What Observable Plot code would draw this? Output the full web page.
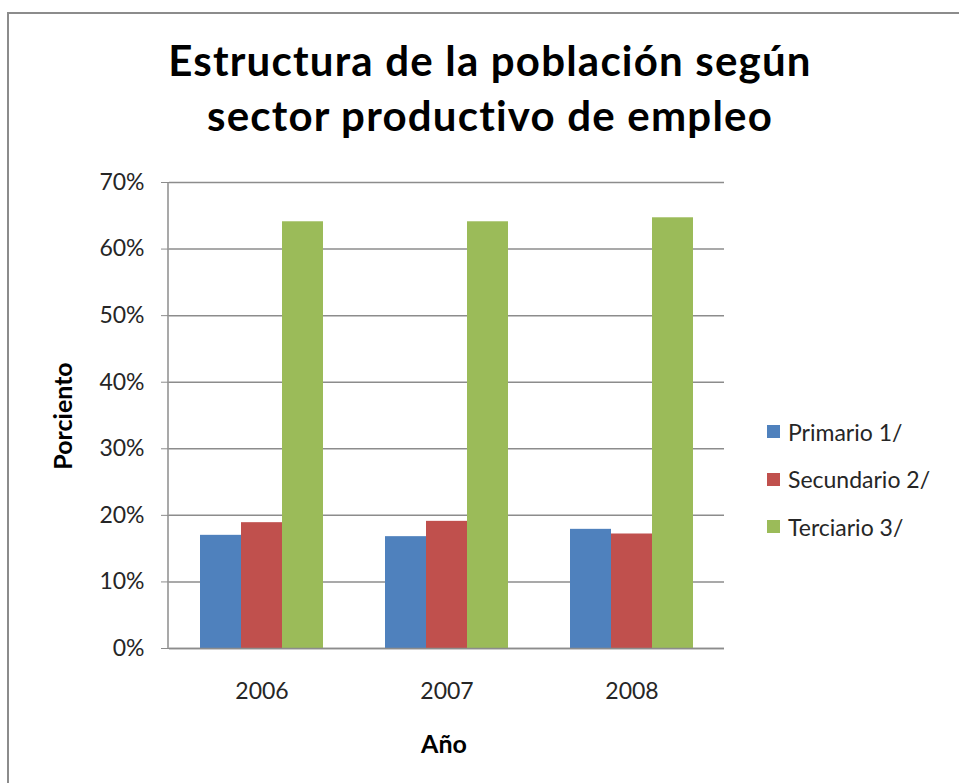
<!DOCTYPE html>
<html>
<head>
<meta charset="utf-8">
<script src="https://cdn.jsdelivr.net/npm/d3@7"></script>
<script src="https://cdn.jsdelivr.net/npm/@observablehq/plot@0.6"></script>
<style>
  html, body { margin: 0; padding: 0; background: #fff; }
  #wrap { position: relative; width: 959px; height: 783px; overflow: hidden; font-family: Lato, "Open Sans", sans-serif; }
  #border { position: absolute; left: 7px; top: 12px; right: -10px; bottom: -10px; border-left: 2px solid #8c8c8c; border-top: 2px solid #8c8c8c; }
  #chart { position: absolute; left: 0; top: 0; }
  #title { position: absolute; left: 0; width: 980px; top: 33px; text-align: center; font-weight: bold; font-size: 42px; line-height: 55px; letter-spacing: 1.2px; color: #000; white-space: nowrap; }
  #title div { display: block; }
  #ylab { position: absolute; left: 62px; top: 416px; transform: translate(-50%, -50%) rotate(-90deg); font-weight: bold; font-size: 25px; color: #000; white-space: nowrap; }
  #xlab { position: absolute; left: 444px; top: 743px; transform: translate(-50%, -50%); font-weight: bold; font-size: 25px; color: #000; white-space: nowrap; }
  #legend { position: absolute; left: 767px; top: 408px; }
  .lg { display: flex; align-items: center; height: 47.5px; font-size: 23px; color: #262626; white-space: nowrap; }
  .sw { width: 13px; height: 13px; margin-right: 8px; }
</style>
</head>
<body>
<div id="wrap">
  <div id="border"></div>
  <div id="chart"></div>
  <div id="title"><div>Estructura de la población según</div><div>sector productivo de empleo</div></div>
  <div id="ylab">Porciento</div>
  <div id="xlab">Año</div>
  <div id="legend"></div>
</div>
<script>
const years = ["2006", "2007", "2008"];
const sectors = ["Primario 1/", "Secundario 2/", "Terciario 3/"];
const primario = [17.0, 16.8, 17.9];
const secundario = [18.9, 19.1, 17.2];
const terciario = [64.1, 64.1, 64.7];
const colors = ["#4f81bd", "#c0504d", "#9bbb59"];
const yTicks = [0, 10, 20, 30, 40, 50, 60, 70];

const series = [primario, secundario, terciario];
const data = years.flatMap((yr, i) => sectors.map((s, j) => ({year: yr, sector: s, value: series[j][i]})));

const gray = "#8c8c8c";
const plot = Plot.plot({
  width: 959,
  height: 783,
  marginLeft: 168,
  marginRight: 235,
  marginTop: 182,
  marginBottom: 135,
  style: {fontFamily: "Lato, 'Open Sans', sans-serif", fontSize: "23px", color: "#262626", background: "transparent", overflow: "visible"},
  fx: {domain: years, padding: 0, label: null},
  x: {domain: sectors, paddingInner: 0, paddingOuter: 0.727, axis: null},
  y: {domain: [0, 70], label: null},
  color: {domain: sectors, range: colors},
  marks: [
    Plot.gridY(yTicks, {stroke: gray, strokeOpacity: 1, strokeWidth: 1.5}),
    Plot.barY(data, {fx: "year", x: "sector", y: "value", fill: "sector"}),
    Plot.ruleY([0], {stroke: gray, strokeWidth: 1.5}),
    Plot.axisY(yTicks, {tickSize: 8, tickPadding: 17, tickFormat: d => d + "%", stroke: gray, strokeOpacity: 1, label: null}),
    Plot.axisFx({anchor: "bottom", tickSize: 0, tickPadding: 34, label: null})
  ]
});

// y-axis line drawn from the plot's own y scale
const ys = plot.scale("y");
d3.select(plot).append("line")
  .attr("x1", 168).attr("x2", 168)
  .attr("y1", ys.apply(70)).attr("y2", ys.apply(0))
  .attr("stroke", gray).attr("stroke-width", 1.5);

document.getElementById("chart").appendChild(plot);

const legend = document.getElementById("legend");
sectors.forEach((s, i) => {
  const row = document.createElement("div");
  row.className = "lg";
  const sw = document.createElement("div");
  sw.className = "sw";
  sw.style.background = colors[i];
  row.appendChild(sw);
  row.appendChild(document.createTextNode(s));
  legend.appendChild(row);
});
</script>
</body>
</html>
